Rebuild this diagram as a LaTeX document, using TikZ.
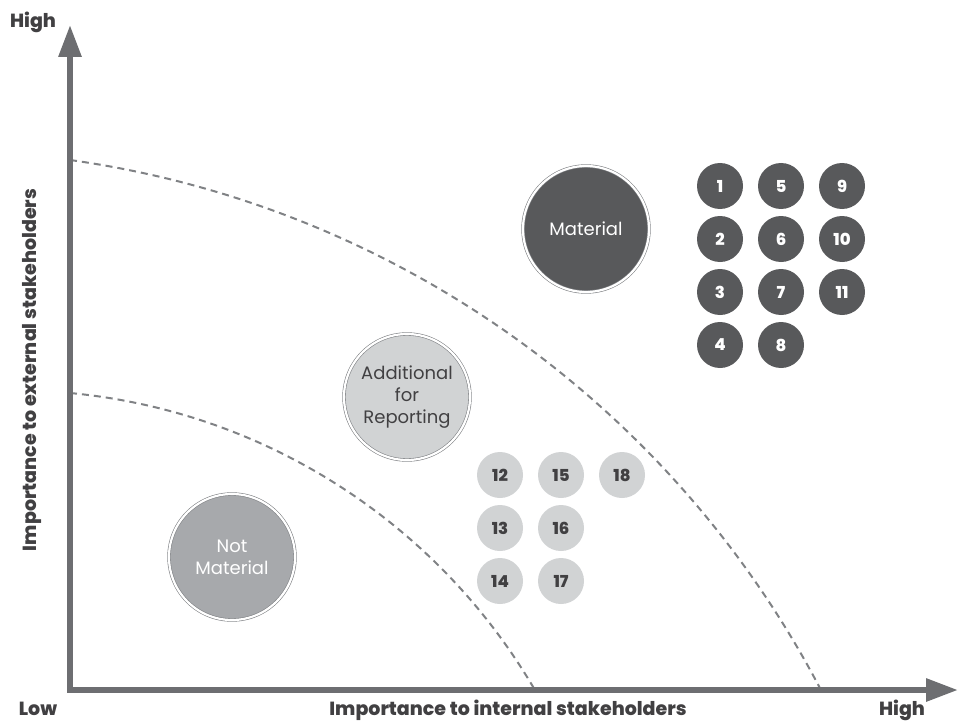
\documentclass[tikz,border=0pt]{standalone}
\usepackage{fontspec}
\setmainfont{Poppins}
\newfontfamily\heavyfont{Poppins ExtraBold}
\usetikzlibrary{arrows.meta}
\definecolor{axisgray}{HTML}{6D6E71}
\definecolor{dashgray}{HTML}{808285}
\definecolor{darkfill}{HTML}{58595B}
\definecolor{midfill}{HTML}{A7A9AC}
\definecolor{lightfill}{HTML}{D1D3D4}
\definecolor{textgray}{HTML}{414042}
\tikzstyle{every picture} = [x=1pt,y=-1pt]
\tikzstyle{dark dot} = [circle,fill=darkfill,text=white,minimum size=46pt,inner sep=0pt,font=\heavyfont\fontsize{16.5}{16.5}\selectfont]
\tikzstyle{light dot} = [circle,fill=lightfill,text=textgray,minimum size=46pt,inner sep=0pt,font=\heavyfont\fontsize{16.5}{16.5}\selectfont]
\tikzstyle{big circle} = [circle,minimum size=126pt,inner sep=0pt,draw=dashgray,double=white,double distance=2.2pt,line width=0.6pt,align=center,font=\fontsize{18}{22}\selectfont]
\tikzstyle{axis label} = [text=textgray,inner sep=0pt,font=\heavyfont\fontsize{19}{19}\selectfont]
\tikzstyle{border line} = [dashgray,line width=2pt,dash pattern=on 7pt off 5pt]

\begin{document}
\begin{tikzpicture}
            \useasboundingbox (0,0) rectangle (960,722);

            \coordinate (ytip) at(70,25);
            \coordinate (origin) at(70,690);
            \coordinate (xtip) at(958,690);
            \coordinate (outer start) at(70,160);
            \coordinate (inner start) at(70,393);

            \draw[border line] (outer start) arc[start angle=-82,end angle=-27.6,radius=1005];
            \draw[border line] (inner start) arc[start angle=-84.6,end angle=-30.2,radius=604];

            \draw[axisgray,line width=6pt,{Triangle[length=32pt,width=22pt]}-{Triangle[length=32pt,width=22pt]}] (ytip) -- (origin) -- (xtip);

            \node (high y) at(33,28) [axis label,anchor=base] {High};
            \node (low) at(38,715) [axis label,anchor=base] {Low};
            \node (high x) at(902,715) [axis label,anchor=base] {High};
            \node (x title) at(508,715) [axis label,anchor=base] {Importance to internal stakeholders};
            \node (y title) at(32,370) [axis label,rotate=90] {Importance to external stakeholders};

            \node (material) at(586,229) [big circle,fill=darkfill,text=white] {Material};
            \node (additional) at(407,397) [big circle,fill=lightfill,text=textgray] {Additional\\for\\Reporting};
            \node (not material) at(232,557) [big circle,fill=midfill,text=white] {Not\\Material};

            \node (node 1) at(720,186) [dark dot] {1};
            \node (node 2) at(720,239) [dark dot] {2};
            \node (node 3) at(720,292) [dark dot] {3};
            \node (node 4) at(720,345) [dark dot] {4};
            \node (node 5) at(781,186) [dark dot] {5};
            \node (node 6) at(781,239) [dark dot] {6};
            \node (node 7) at(781,292) [dark dot] {7};
            \node (node 8) at(781,345) [dark dot] {8};
            \node (node 9) at(842,186) [dark dot] {9};
            \node (node 10) at(842,239) [dark dot] {10};
            \node (node 11) at(842,292) [dark dot] {11};

            \node (node 12) at(500,475) [light dot] {12};
            \node (node 13) at(500,528) [light dot] {13};
            \node (node 14) at(500,581) [light dot] {14};
            \node (node 15) at(561,475) [light dot] {15};
            \node (node 16) at(561,528) [light dot] {16};
            \node (node 17) at(561,581) [light dot] {17};
            \node (node 18) at(622,475) [light dot] {18};

        \end{tikzpicture}
\end{document}
